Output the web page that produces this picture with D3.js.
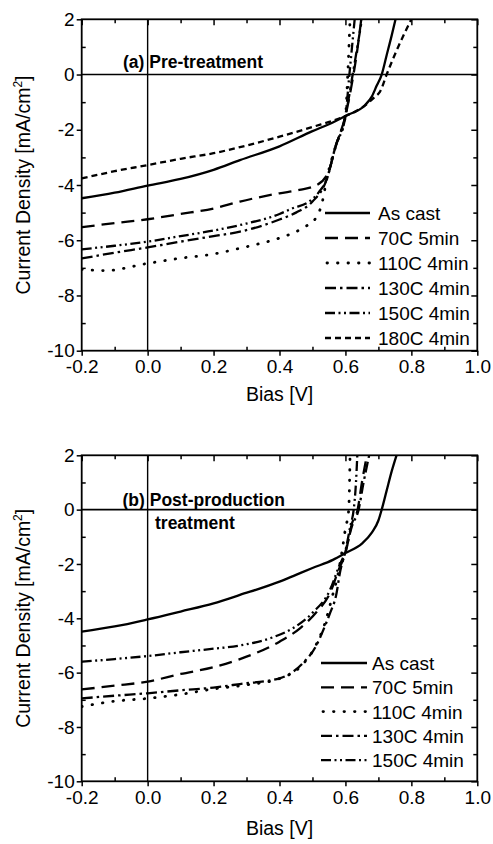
<!DOCTYPE html>
<html><head><meta charset="utf-8">
<script src="https://cdn.jsdelivr.net/npm/d3@7"></script>
<style>
html,body{margin:0;padding:0;background:#fff;}
svg text{font-family:"Liberation Sans",Arial,sans-serif;fill:#000;}
</style>
</head><body>
<script>
// ---------- DATA ----------
const seriesNamesA = ["As cast","70C 5min","110C 4min","130C 4min","150C 4min","180C 4min"];
const seriesNamesB = ["As cast","70C 5min","110C 4min","130C 4min","150C 4min"];

// Panel (a) Pre-treatment
const a_asCast_x = [-0.2,-0.1,0,0.1,0.2,0.28,0.4,0.5,0.55,0.6,0.66,0.68,0.695,0.71,0.725,0.74,0.752];
const a_asCast_y = [-4.48,-4.28,-4.02,-3.78,-3.45,-3.1,-2.6,-2.05,-1.8,-1.5,-1.1,-0.8,-0.4,0,0.7,1.4,2];
const a_70C_x = [-0.2,-0.1,0,0.1,0.2,0.28,0.4,0.46,0.513,0.547,0.573,0.6,0.62,0.635,0.648];
const a_70C_y = [-5.53,-5.38,-5.24,-5.05,-4.85,-4.6,-4.3,-4.18,-4.0,-3.57,-2.5,-1.5,-0.3,0.8,2];
const a_110C_x = [-0.2,-0.13,0,0.1,0.2,0.28,0.32,0.4,0.47,0.513,0.53,0.543,0.57,0.6,0.607,0.614];
const a_110C_y = [-7.05,-7.1,-6.84,-6.65,-6.5,-6.29,-6.18,-5.92,-5.56,-5.15,-4.6,-3.8,-2.6,-1.5,0,2];
const a_130C_x = [-0.2,-0.1,0,0.1,0.2,0.28,0.4,0.45,0.5,0.543,0.57,0.6,0.622,0.65];
const a_130C_y = [-6.66,-6.45,-6.26,-6.05,-5.85,-5.69,-5.25,-5.0,-4.6,-3.8,-2.6,-1.5,0,2];
const a_150C_x = [-0.2,-0.1,0,0.1,0.2,0.28,0.4,0.44,0.49,0.52,0.543,0.57,0.6,0.612,0.628];
const a_150C_y = [-6.33,-6.2,-6.05,-5.85,-5.65,-5.45,-5.05,-4.84,-4.6,-4.25,-3.8,-2.6,-1.5,0,2];
const a_180C_x = [-0.2,-0.1,0,0.1,0.2,0.28,0.4,0.5,0.6,0.65,0.69,0.705,0.725,0.76,0.80];
const a_180C_y = [-3.76,-3.5,-3.28,-3.05,-2.85,-2.63,-2.25,-1.9,-1.5,-1.2,-0.8,-0.62,0,1.0,2];

// Panel (b) Post-production treatment
const b_asCast_x = [-0.2,-0.1,0,0.1,0.2,0.28,0.4,0.45,0.5,0.562,0.6,0.65,0.68,0.7,0.71,0.725,0.74,0.755];
const b_asCast_y = [-4.49,-4.3,-4.04,-3.75,-3.45,-3.14,-2.65,-2.4,-2.15,-1.85,-1.6,-1.25,-0.85,-0.4,0,0.7,1.4,2];
const b_70C_x = [-0.2,-0.1,0,0.1,0.2,0.28,0.4,0.462,0.513,0.553,0.58,0.6,0.62,0.637,0.65,0.665];
const b_70C_y = [-6.62,-6.48,-6.33,-6.05,-5.8,-5.5,-4.86,-4.37,-3.76,-3.08,-2.2,-1.6,-0.5,0,1,2];
const b_110C_x = [-0.2,-0.1,0,0.1,0.2,0.3,0.4,0.47,0.51,0.54,0.56,0.578,0.59,0.6,0.61,0.614];
const b_110C_y = [-7.25,-7.05,-6.95,-6.8,-6.6,-6.45,-6.22,-5.7,-5.0,-4.1,-3.2,-2.35,-1.5,-0.7,0,2];
const b_130C_x = [-0.2,-0.1,0,0.1,0.2,0.28,0.4,0.47,0.51,0.537,0.553,0.573,0.583,0.6,0.62,0.64,0.655,0.672];
const b_130C_y = [-6.95,-6.85,-6.76,-6.65,-6.55,-6.42,-6.21,-5.66,-5.04,-4.31,-3.82,-3.08,-2.34,-1.55,-0.6,0,1,2];
const b_150C_x = [-0.2,-0.1,0,0.1,0.2,0.28,0.38,0.44,0.5,0.553,0.58,0.6,0.615,0.625,0.632,0.636];
const b_150C_y = [-5.6,-5.5,-5.39,-5.25,-5.12,-5.0,-4.7,-4.37,-3.8,-2.96,-2.1,-1.5,-0.6,0,1,2];

const xTicks = [-0.2,0.0,0.2,0.4,0.6,0.8,1.0];
const yTicks = [2,0,-2,-4,-6,-8,-10];
const xTickLabels = ["-0.2","0.0","0.2","0.4","0.6","0.8","1.0"];
const yTickLabels = ["2","0","-2","-4","-6","-8","-10"];

// ---------- STYLES ----------
const dashes = {
  "As cast": null,
  "70C 5min": "13,7",
  "110C 4min": "0.5,10",
  "130C 4min": "11,4,2.5,4",
  "150C 4min": "10,3.5,2,3.5,2,3.5",
  "180C 4min": "6,4"
};

const W = 493, H = 844;
const svg = d3.select("body").append("svg").attr("width", W).attr("height", H);

function zip(xs, ys){ return xs.map((x,i)=>({x, y: ys[i]})); }

const panels = [
  {id:"a", top:19.3, bottom:350.7, names:seriesNamesA,
   data:[zip(a_asCast_x,a_asCast_y),zip(a_70C_x,a_70C_y),zip(a_110C_x,a_110C_y),zip(a_130C_x,a_130C_y),zip(a_150C_x,a_150C_y),zip(a_180C_x,a_180C_y)],
   legend:{y0:213, dy:25, lx0:325, lx1:370, tx:378},
   titleLines:[{t:"(a) Pre-treatment", x:123, y:68}],
   xlabelY:401},
  {id:"b", top:455.3, bottom:781.3, names:seriesNamesB,
   data:[zip(b_asCast_x,b_asCast_y),zip(b_70C_x,b_70C_y),zip(b_110C_x,b_110C_y),zip(b_130C_x,b_130C_y),zip(b_150C_x,b_150C_y)],
   legend:{y0:663, dy:24.3, lx0:321, lx1:367, tx:372},
   titleLines:[{t:"(b) Post-production", x:122.5, y:506},{t:"treatment", x:155, y:529}],
   xlabelY:835}
];

const left = 81.7, right = 477.3;

panels.forEach(p => {
  const x = d3.scaleLinear().domain([-0.2,1.0]).range([left,right]);
  const y = d3.scaleLinear().domain([-10,2]).range([p.bottom,p.top]);
  const g = svg.append("g");

  g.append("clipPath").attr("id","clip-"+p.id).append("rect")
    .attr("x",left).attr("y",p.top).attr("width",right-left).attr("height",p.bottom-p.top);

  // zero lines
  g.append("line").attr("x1",left).attr("x2",right).attr("y1",y(0)).attr("y2",y(0))
    .attr("stroke","#000").attr("stroke-width",1.6);
  g.append("line").attr("x1",x(0)).attr("x2",x(0)).attr("y1",p.top).attr("y2",p.bottom)
    .attr("stroke","#000").attr("stroke-width",1.4);

  // curves
  const line = d3.line().x(d=>x(d.x)).y(d=>y(d.y)).curve(d3.curveMonotoneX);
  const cg = g.append("g").attr("clip-path","url(#clip-"+p.id+")");
  p.data.forEach((d,i) => {
    const name = p.names[i];
    const dotted = name==="110C 4min";
    cg.append("path").datum(d).attr("d",line)
      .attr("fill","none").attr("stroke","#000").attr("stroke-width",dotted?2.8:2.3)
      .attr("stroke-linecap", dotted ? "round" : "butt")
      .attr("stroke-dasharray", dashes[name]);
  });

  // axes
  const minorX = d3.range(-0.1,1.0,0.2).map(v=>+v.toFixed(2));
  const minorY = d3.range(1,-10,-2);
  const bottomAxis = d3.axisBottom(x).tickValues(xTicks).tickFormat((d,i)=>xTickLabels[i]).tickSizeInner(5).tickSizeOuter(0).tickPadding(4);
  g.append("g").attr("transform",`translate(0,${p.bottom})`).call(bottomAxis);
  const leftAxis = d3.axisLeft(y).tickValues(yTicks).tickFormat((d,i)=>yTickLabels[i]).tickSizeInner(5).tickSizeOuter(0).tickPadding(2);
  g.append("g").attr("transform",`translate(${left},0)`).call(leftAxis);
  // minor inward ticks bottom/left
  g.append("g").attr("transform",`translate(0,${p.bottom})`).call(d3.axisTop(x).tickValues(minorX).tickSize(4).tickFormat(""));
  g.append("g").attr("transform",`translate(${left},0)`).call(d3.axisRight(y).tickValues(minorY).tickSize(4).tickFormat(""));
  // top/right inward ticks
  g.append("g").attr("transform",`translate(0,${p.top})`).call(d3.axisBottom(x).tickValues(xTicks).tickSize(6).tickFormat(""));
  g.append("g").attr("transform",`translate(0,${p.top})`).call(d3.axisBottom(x).tickValues(minorX).tickSize(4).tickFormat(""));
  g.append("g").attr("transform",`translate(${right},0)`).call(d3.axisLeft(y).tickValues(yTicks).tickSize(6).tickFormat(""));
  g.append("g").attr("transform",`translate(${right},0)`).call(d3.axisLeft(y).tickValues(minorY).tickSize(4).tickFormat(""));

  g.selectAll(".domain").remove();
  g.selectAll(".tick line").attr("stroke","#000").attr("stroke-width",1.5);
  g.selectAll(".tick text").attr("font-size",19).attr("font-family","'Liberation Sans',Arial,sans-serif");

  // frame
  g.append("rect").attr("x",left).attr("y",p.top).attr("width",right-left).attr("height",p.bottom-p.top)
    .attr("fill","none").attr("stroke","#000").attr("stroke-width",1.8);

  // axis titles
  const ytxt = g.append("text").attr("transform",`translate(30,${(p.top+p.bottom)/2}) rotate(-90)`)
    .attr("text-anchor","middle").attr("font-size",19.5);
  ytxt.append("tspan").text("Current Density [mA/cm");
  ytxt.append("tspan").attr("font-size",12).attr("dy",-8).text("2");
  ytxt.append("tspan").attr("dy",8).text("]");
  g.append("text").attr("x",(left+right)/2).attr("y",p.xlabelY).attr("text-anchor","middle")
    .attr("font-size",19.5).text("Bias [V]");

  // annotation
  p.titleLines.forEach(t => {
    g.append("text").attr("x",t.x).attr("y",t.y).attr("font-size",17.5).attr("font-weight","bold").text(t.t);
  });

  // legend
  p.names.forEach((name,i) => {
    const ly = p.legend.y0 + i*p.legend.dy;
    const dotted = name==="110C 4min";
    g.append("line").attr("x1",p.legend.lx0 + (dotted?2:0)).attr("x2",p.legend.lx1).attr("y1",ly).attr("y2",ly)
      .attr("stroke","#000").attr("stroke-width",dotted?2.8:2.3)
      .attr("stroke-linecap", dotted ? "round" : "butt")
      .attr("stroke-dasharray",dashes[name]);
    g.append("text").attr("x",p.legend.tx).attr("y",ly+7).attr("font-size",19).text(name);
  });
});
</script>
</body></html>
